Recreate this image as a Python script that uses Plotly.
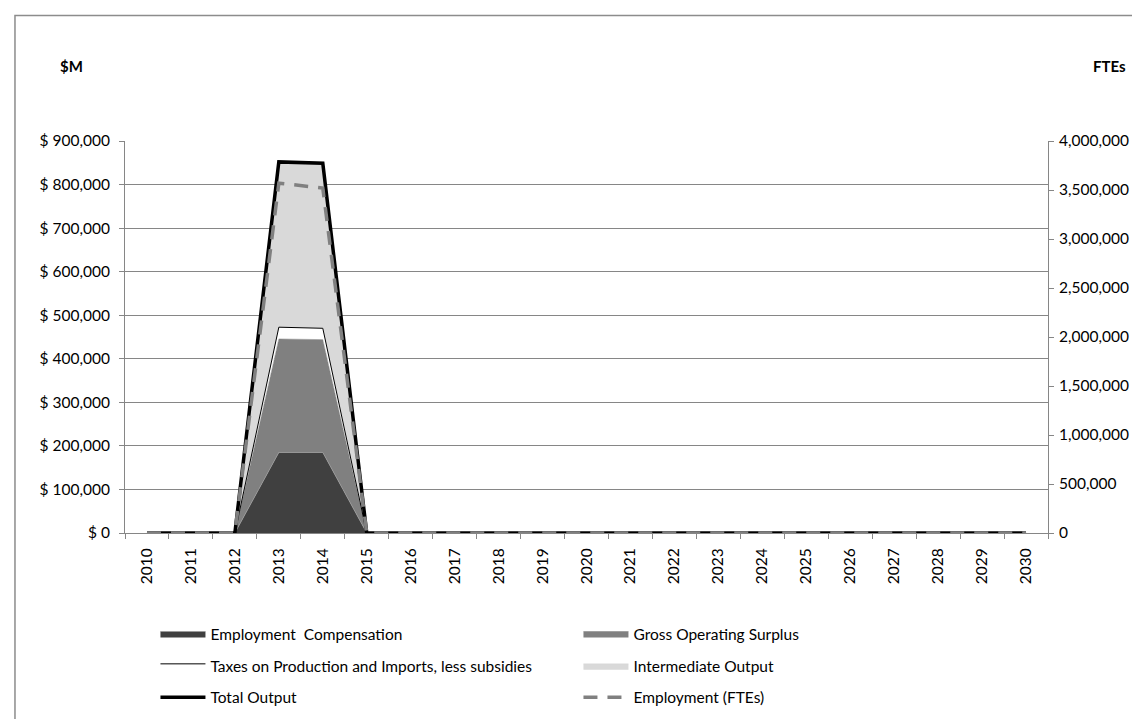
import plotly.graph_objects as go

years = [str(y) for y in range(2010, 2031)]
employment_comp = [0, 0, 0, 185000, 185000] + [0] * 16
gross_operating_surplus = [0, 0, 0, 260500, 259000] + [0] * 16
taxes_less_subsidies = [0, 0, 0, 27000, 26000] + [0] * 16
intermediate_output = [0, 0, 0, 379500, 379000] + [0] * 16
total_output = [0, 0, 0, 852000, 849000] + [0] * 16
employment_fte = [0, 0, 0, 3570000, 3520000] + [0] * 16

FONT = "Lato, Liberation Sans, Arial, sans-serif"
GRID = "#868686"

fig = go.Figure()

fig.add_trace(go.Scatter(x=years, y=employment_comp, name="Employment  Compensation",
                         stackgroup="one", mode="lines",
                         line=dict(color="#9a9a9a", width=0.75), fillcolor="#404040",
                         legend="legend"))
fig.add_trace(go.Scatter(x=years, y=gross_operating_surplus, name="Gross Operating Surplus",
                         stackgroup="one", mode="lines",
                         line=dict(color="#808080", width=0.5), fillcolor="#808080",
                         legend="legend"))
fig.add_trace(go.Scatter(x=years, y=taxes_less_subsidies,
                         name="Taxes on Production and Imports, less subsidies",
                         stackgroup="one", mode="lines",
                         line=dict(color="#000000", width=1), fillcolor="#ffffff",
                         legend="legend2"))
fig.add_trace(go.Scatter(x=years, y=intermediate_output, name="Intermediate Output",
                         stackgroup="one", mode="lines",
                         line=dict(color="#d9d9d9", width=0.5), fillcolor="#d9d9d9",
                         legend="legend2"))
fig.add_trace(go.Scatter(x=years, y=total_output, name="Total Output", mode="lines",
                         line=dict(color="#000000", width=3.5), legend="legend3"))
fig.add_trace(go.Scatter(x=years, y=employment_fte, name="Employment (FTEs)", mode="lines",
                         line=dict(color="#808080", width=3.5, dash="14px,10px"),
                         yaxis="y2", legend="legend3"))

leg_common = dict(orientation="h", xanchor="left", yanchor="middle",
                  entrywidth=363, entrywidthmode="pixels", itemwidth=45,
                  font=dict(family=FONT, size=15.5, color="#000000"),
                  bgcolor="rgba(0,0,0,0)", traceorder="normal")

TICKFONT = dict(family=FONT, size=15.5, color="#000000")

fig.update_layout(
    width=1140, height=719,
    margin=dict(l=117, r=100, t=133, b=186),
    paper_bgcolor="white", plot_bgcolor="white",
    font=dict(family=FONT, size=15.5, color="#000000"),
    showlegend=True,
    legend=dict(x=0.033, y=-0.2575, **leg_common),
    legend2=dict(x=0.033, y=-0.34, **leg_common),
    legend3=dict(x=0.033, y=-0.42, **leg_common),
    xaxis=dict(type="category", tickangle=-90, showgrid=False,
               showline=True, linecolor=GRID, linewidth=1,
               ticks="outside", tickson="boundaries", ticklen=5, tickcolor=GRID,
               ticklabelstandoff=8,
               tickfont=TICKFONT, range=[-0.5, 20.5], fixedrange=True),
    yaxis=dict(range=[0, 900000], dtick=100000, tickformat=",", tickprefix="$ ",
               showgrid=True, gridcolor=GRID, gridwidth=1,
               showline=True, linecolor=GRID, linewidth=1,
               ticks="outside", ticklen=5, tickcolor=GRID, zeroline=False,
               ticklabelstandoff=6, tickfont=TICKFONT),
    yaxis2=dict(range=[0, 4000000], dtick=500000, tickformat=",",
                overlaying="y", side="right", showgrid=False,
                showline=True, linecolor=GRID, linewidth=1,
                ticks="outside", ticklen=5, tickcolor=GRID, zeroline=False,
                ticklabelstandoff=2, tickfont=TICKFONT),
    annotations=[
        dict(text="<b>$M</b>", xref="paper", yref="paper", x=-0.0726, y=1.1925,
             xanchor="left", yanchor="middle", showarrow=False,
             font=dict(family=FONT, size=15)),
        dict(text="<b>FTEs</b>", xref="paper", yref="paper", x=1.0466, y=1.1925,
             xanchor="left", yanchor="middle", showarrow=False,
             font=dict(family=FONT, size=15)),
    ],
    shapes=[
        dict(type="rect", xref="paper", yref="paper",
             x0=-0.1192, x1=1.2, y0=-0.6, y1=1.32,
             line=dict(color="#8c8c8c", width=1.5), fillcolor="rgba(0,0,0,0)",
             layer="below"),
    ],
)

fig.write_html("out.html")
